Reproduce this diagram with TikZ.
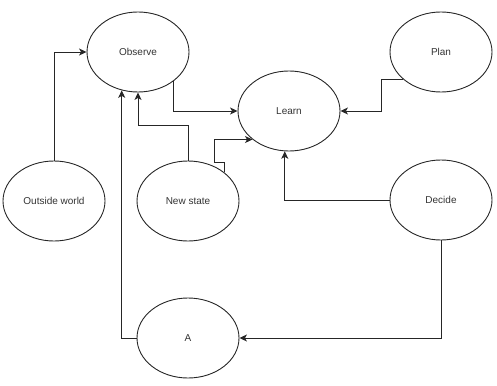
\documentclass[tikz,border=0pt]{standalone}
\usepackage{fontspec}
\setmainfont{Liberation Sans}
\usetikzlibrary{shapes.geometric,arrows.meta}
\begin{document}
\begin{tikzpicture}[x=1pt,y=-1pt,
  oval/.style={ellipse,draw=black!85,line width=0.9pt,minimum width=102pt,minimum height=80pt,inner sep=0pt,
    font=\fontsize{10}{12}\selectfont,text=black!80},
  arr/.style={draw=black!85,line width=0.9pt,-{Stealth[length=7.5pt,width=7pt,inset=2pt]}}]
\useasboundingbox (0,0) rectangle (497,385);
\node[oval] (obs) at (138,52) {Observe};
\node[oval] (learn) at (289,111) {Learn};
\node[oval] (plan) at (441,52) {Plan};
\node[oval] (ow) at (54,201) {Outside world};
\node[oval] (ns) at (188,201) {New state};
\node[oval] (dec) at (441,200) {Decide};
\node[oval] (a) at (188,338) {A};
\draw[arr] (ow.north) |- (obs.west);
\draw[arr] (obs.-39.6) |- (learn.west);
\draw[arr] (ns.north) -- ++(0,-35) -| (obs.south);
\draw[arr] (ns.38) -- ++(0,-10) -- ++(-10,0) |- (learn.218);
\draw[arr] (plan.216) -- ++(-22,0) |- (learn.east);
\draw[arr] (dec.west) -| (learn.264);
\draw[arr] (dec.south) |- (a.east);
\draw[arr] (a.west) -| (obs.247);
\end{tikzpicture}
\end{document}
